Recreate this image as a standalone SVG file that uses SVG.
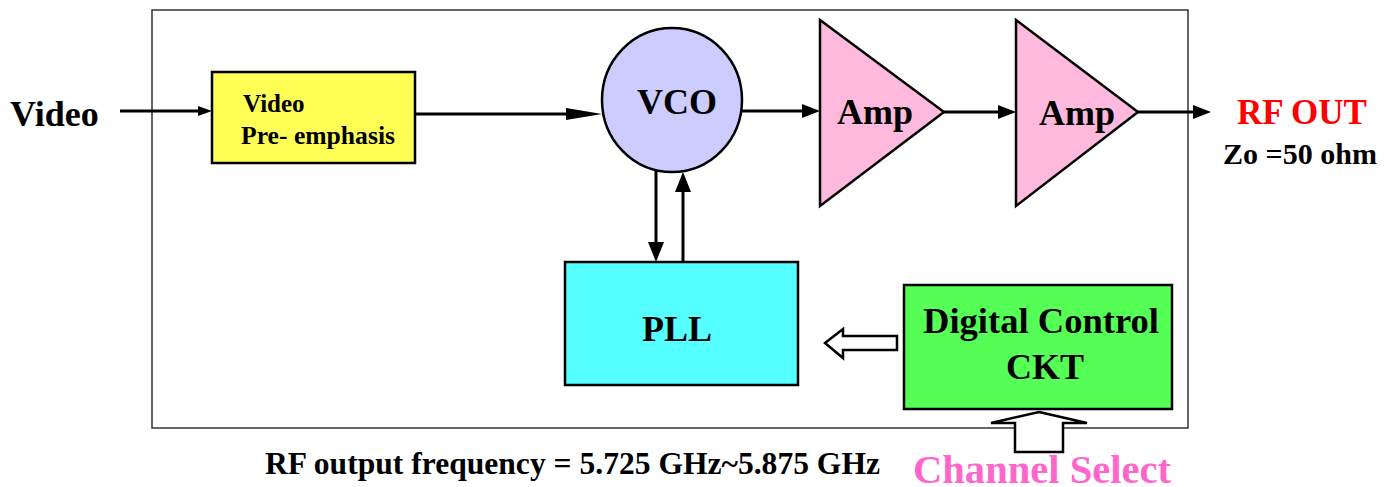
<svg xmlns="http://www.w3.org/2000/svg" width="1393" height="487" viewBox="0 0 1393 487">
<style>
text{font-family:"Liberation Serif","Times New Roman",serif;font-weight:bold;fill:#000}
.big{font-size:36px}
.mid{text-anchor:middle}
.node{stroke:#000;stroke-width:2.5}
.wire{stroke:#000;stroke-width:3;fill:none}
.head{fill:#000;stroke:none}
.hollow{fill:#fff;stroke:#000;stroke-width:2.5}
</style>
<rect x="152" y="10" width="1036" height="418" fill="#fff" stroke="#333" stroke-width="1.5"/>
<g id="video-pre-emphasis">
<rect class="node" x="212" y="72" width="203" height="91" fill="#ffff55"/>
<text x="243" y="112" font-size="25">Video</text>
<text x="241" y="144" font-size="25" textLength="154" lengthAdjust="spacingAndGlyphs">Pre- emphasis</text>
</g>
<g id="vco">
<ellipse class="node" cx="672" cy="100" rx="70" ry="72" fill="#ccccff"/>
<text class="big mid" x="677" y="114">VCO</text>
</g>
<g id="amp1">
<polygon class="node" points="820,20 944,112 820,206" fill="#ffb9dd"/>
<text class="big mid" x="875" y="124">Amp</text>
</g>
<g id="amp2">
<polygon class="node" points="1016,20 1138,112 1016,206" fill="#ffb9dd"/>
<text class="big mid" x="1077" y="125">Amp</text>
</g>
<g id="pll">
<rect class="node" x="565" y="262" width="233" height="123" fill="#55ffff"/>
<text class="big mid" x="677" y="341">PLL</text>
</g>
<g id="digital-control">
<rect class="node" x="904" y="285" width="268" height="124" fill="#55ff55"/>
<text class="big mid" x="1041" y="333" textLength="236" lengthAdjust="spacingAndGlyphs">Digital Control</text>
<text class="big mid" x="1045" y="379">CKT</text>
</g>
<g id="labels">
<text class="big" x="10" y="126">Video</text>
<text x="1302" y="124" font-size="35" text-anchor="middle" style="fill:#ff0000">RF OUT</text>
<text x="1223" y="164" font-size="30" textLength="154" lengthAdjust="spacingAndGlyphs">Zo =50 ohm</text>
<text x="265" y="474" font-size="32" textLength="615" lengthAdjust="spacingAndGlyphs">RF output frequency = 5.725 GHz~5.875 GHz</text>
<text x="913" y="483" font-size="40" textLength="258" lengthAdjust="spacingAndGlyphs" style="fill:#ff66cc">Channel Select</text>
</g>
<g id="connectors">
<line class="wire" x1="120" y1="111" x2="200" y2="111"/>
<polygon class="head" points="212,111 198,106 198,116"/>
<line class="wire" x1="415" y1="114" x2="570" y2="114"/>
<polygon class="head" points="602,114 566,108 566,120"/>
<line class="wire" x1="742" y1="111" x2="805" y2="111"/>
<polygon class="head" points="820,111 802,104 802,118"/>
<line class="wire" x1="944" y1="112" x2="1001" y2="112"/>
<polygon class="head" points="1016,112 998,105 998,119"/>
<line class="wire" x1="1138" y1="112" x2="1196" y2="112"/>
<polygon class="head" points="1211,112 1193,105 1193,119"/>
<line class="wire" x1="656" y1="170" x2="656" y2="245"/>
<polygon class="head" points="656,262 648,242 664,242"/>
<line class="wire" x1="683" y1="262" x2="683" y2="188"/>
<polygon class="head" points="683,172 675,192 691,192"/>
<polygon class="hollow" points="825,343 843,329 843,336 897,336 897,350 843,350 843,358"/>
<polygon class="hollow" points="1039,412 1087,423 1063,423 1063,452 1015,452 1015,423 991,423"/>
</g>
</svg>
